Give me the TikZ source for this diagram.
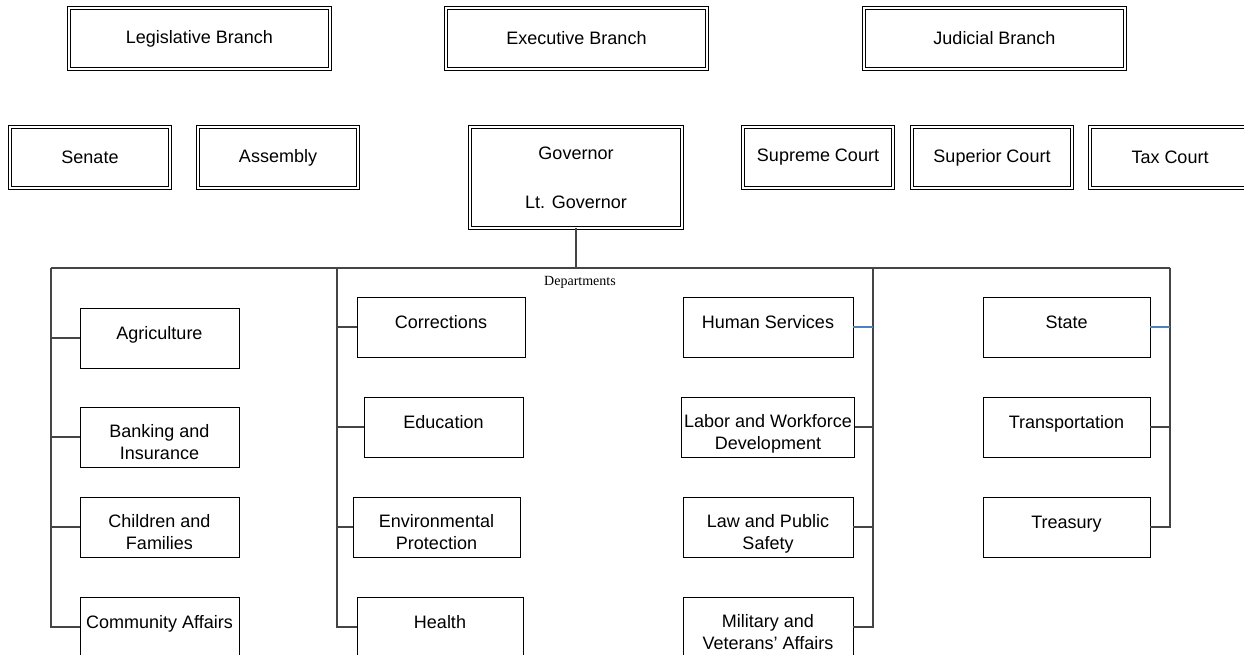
\documentclass[tikz,border=0pt]{standalone}
\usepackage{fontspec}
\setmainfont{Liberation Sans}
\newfontfamily\deptfont{Liberation Serif}
\usepackage{xcolor}
\usetikzlibrary{positioning}
\definecolor{linegray}{rgb}{0.27,0.27,0.27}
\definecolor{linkblue}{rgb}{0.31,0.51,0.74}

\begin{document}
\begin{tikzpicture}[
  x=0.75pt, y=-0.75pt,
  font=\fontsize{13.5}{16}\selectfont,
  box/.style={draw=black, line width=0.6pt, align=center, inner sep=2pt, fill=white},
  branch/.style={box, double, double distance=1.5pt, minimum height=45.75pt},
  dept/.style={box, line width=0.5pt, minimum height=45pt, text height=10pt, text depth=8pt},
  twoline/.style={text height=33pt, text depth=0pt},
  link/.style={draw=linegray, line width=0.9pt},
  bluelink/.style={draw=linkblue, line width=0.9pt}]
  \useasboundingbox (0,0) rectangle (1244,655);

  \node[branch, minimum width=195.75pt] (leg) at (199.5,38.5) {Legislative Branch};
  \node[branch, minimum width=195.75pt] (exe) at (576.5,38.5) {Executive Branch};
  \node[branch, minimum width=195.75pt] (jud) at (994.5,38.5) {Judicial Branch};

  \node[branch, minimum width=120pt] (senate) at (90,157.5) {Senate};
  \node[branch, minimum width=120pt] (assembly) at (278,157.5) {Assembly};
  \node[branch, minimum width=159pt, minimum height=75.75pt] (gov) at (576,177.5)
    {Governor\\[21pt]Lt. Governor};
  \node[branch, minimum width=112.5pt] (supreme) at (818,157.5) {Supreme Court};
  \node[branch, minimum width=120pt] (superior) at (992,157.5) {Superior Court};
  \node[branch, minimum width=120pt] (tax) at (1170,157.5) {Tax Court};

  \coordinate (b1) at (51,268);
  \coordinate (b2) at (337,268);
  \coordinate (b3) at (873,268);
  \coordinate (b4) at (1170,268);

  \node[dept, minimum width=119.25pt] (agri) at (159.5,338) {Agriculture};
  \node[dept, twoline, minimum width=119.25pt] (bank) at (159.5,437) {Banking and\\Insurance};
  \node[dept, twoline, minimum width=119.25pt] (child) at (159.5,527) {Children and\\Families};
  \node[dept, minimum width=119.25pt] (comm) at (159.5,627) {Community Affairs};

  \node[dept, minimum width=126pt] (corr) at (441,327) {Corrections};
  \node[dept, minimum width=119.25pt] (edu) at (443.5,427) {Education};
  \node[dept, twoline, minimum width=125.25pt] (env) at (436.5,527) {Environmental\\Protection};
  \node[dept, minimum width=124.5pt] (health) at (440,627) {Health};

  \node[dept, minimum width=127.5pt] (human) at (768,327) {Human Services};
  \node[dept, twoline, minimum width=127.5pt] (labor) at (768,427) {Labor and Workforce\\Development};
  \node[dept, twoline, minimum width=127.5pt] (law) at (768,527) {Law and Public\\Safety};
  \node[dept, twoline, minimum width=127.5pt] (mil) at (768,627) {Military and\\Veterans' Affairs};

  \node[dept, minimum width=125.25pt] (state) at (1066.5,327) {State};
  \node[dept, minimum width=125.25pt] (trans) at (1066.5,427) {Transportation};
  \node[dept, minimum width=125.25pt] (treas) at (1066.5,527) {Treasury};

  \draw[link, line width=1.6pt] (gov.south) -- (gov.south |- b1);
  \draw[link] (b1) -- (b4);
  \node[font=\deptfont\fontsize{10.5}{12}\selectfont] (deps) at (580,282) {Departments};

  \draw[link] (b1) |- (comm.west);
  \draw[link] (agri.west) -- (agri.west -| b1);
  \draw[link] (bank.west) -- (bank.west -| b1);
  \draw[link] (child.west) -- (child.west -| b1);

  \draw[link] (b2) |- (health.west);
  \draw[link] (corr.west) -- (corr.west -| b2);
  \draw[link] (edu.west) -- (edu.west -| b2);
  \draw[link] (env.west) -- (env.west -| b2);

  \draw[link] (b3) |- (mil.east);
  \draw[bluelink] (human.east) -- (human.east -| b3);
  \draw[link] (labor.east) -- (labor.east -| b3);
  \draw[link] (law.east) -- (law.east -| b3);

  \draw[link] (b4) |- (treas.east);
  \draw[bluelink] (state.east) -- (state.east -| b4);
  \draw[link] (trans.east) -- (trans.east -| b4);
\end{tikzpicture}
\end{document}
